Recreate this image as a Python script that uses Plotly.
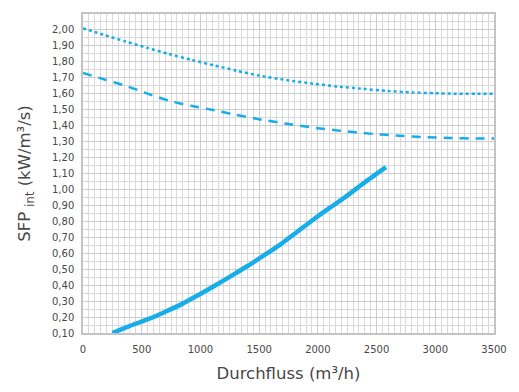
import plotly.graph_objects as go

# Durchfluss (m³/h) and SFP_int (kW/m³/s) for the three curves
flow_solid = [250, 400, 561, 700, 841, 980, 1122, 1260, 1402, 1540, 1683, 1820,
              1963, 2100, 2244, 2400, 2580]
sfp_solid = [0.10, 0.145, 0.188, 0.233, 0.281, 0.337, 0.396, 0.457, 0.52, 0.586,
             0.656, 0.732, 0.812, 0.884, 0.958, 1.045, 1.14]

flow_dashed = [0, 190, 379, 560, 743, 930, 1122, 1300, 1486, 1720, 1963, 2200,
               2440, 2660, 2889, 3130, 3365, 3500]
sfp_dashed = [1.73, 1.688, 1.646, 1.598, 1.554, 1.523, 1.496, 1.468, 1.442, 1.414,
              1.388, 1.367, 1.35, 1.338, 1.329, 1.323, 1.319, 1.32]

flow_dotted = [0, 180, 365, 545, 729, 925, 1122, 1310, 1500, 1730, 1963, 2170,
               2384, 2590, 2804, 3000, 3200, 3350, 3500]
sfp_dotted = [2.01, 1.969, 1.927, 1.888, 1.85, 1.812, 1.777, 1.744, 1.714, 1.686,
              1.663, 1.645, 1.631, 1.618, 1.608, 1.603, 1.600, 1.60, 1.60]

x_ticks = [0, 500, 1000, 1500, 2000, 2500, 3000, 3500]
y_ticks = [round(0.10 + 0.10 * i, 2) for i in range(20)]

BLUE = "#16ADE8"
TEXT = "#474747"
FONT = "DejaVu Sans"

fig = go.Figure()
fig.add_trace(go.Scatter(x=flow_dotted, y=sfp_dotted, mode="lines",
                         line=dict(color=BLUE, width=2.5, dash="dot",
                                   shape="spline", smoothing=0.6)))
fig.add_trace(go.Scatter(x=flow_dashed, y=sfp_dashed, mode="lines",
                         line=dict(color=BLUE, width=2.5, dash="9px,7px",
                                   shape="spline", smoothing=0.6)))
fig.add_trace(go.Scatter(x=flow_solid, y=sfp_solid, mode="lines",
                         line=dict(color=BLUE, width=4.5,
                                   shape="spline", smoothing=0.6)))

fig.update_layout(
    width=519, height=392,
    margin=dict(l=83, r=20, t=14, b=58),
    paper_bgcolor="white", plot_bgcolor="white",
    showlegend=False,
    separators=", ",
    font=dict(family=FONT, color=TEXT, size=10),
)
fig.update_xaxes(
    range=[0, 3500], tickvals=x_ticks, tickformat="d",
    showgrid=True, gridcolor="#cccccc", gridwidth=1,
    minor=dict(dtick=50, showgrid=True, gridcolor="#d9d9d9", gridwidth=1),
    showline=True, linecolor="#c4c4c4", linewidth=1.5, mirror=True,
    ticks="outside", ticklen=6, tickcolor="rgba(0,0,0,0)", zeroline=False,
    tickfont=dict(size=10, color=TEXT),
    title=dict(text="Durchfluss (m³/h)", font=dict(size=16.5, color=TEXT), standoff=14),
)
fig.update_yaxes(
    range=[0.10, 2.10], tickvals=y_ticks, tickformat=".2f",
    showgrid=True, gridcolor="#cccccc", gridwidth=1,
    minor=dict(dtick=0.05, showgrid=True, gridcolor="#d9d9d9", gridwidth=1),
    showline=True, linecolor="#c4c4c4", linewidth=1.5, mirror=True,
    ticks="outside", ticklen=5, tickcolor="rgba(0,0,0,0)", zeroline=False,
    tickfont=dict(size=10, color=TEXT),
    title=dict(text="SFP <sub>int</sub> (kW/m³/s)", font=dict(size=16.5, color=TEXT), standoff=17),
)

fig.write_html("out.html")
